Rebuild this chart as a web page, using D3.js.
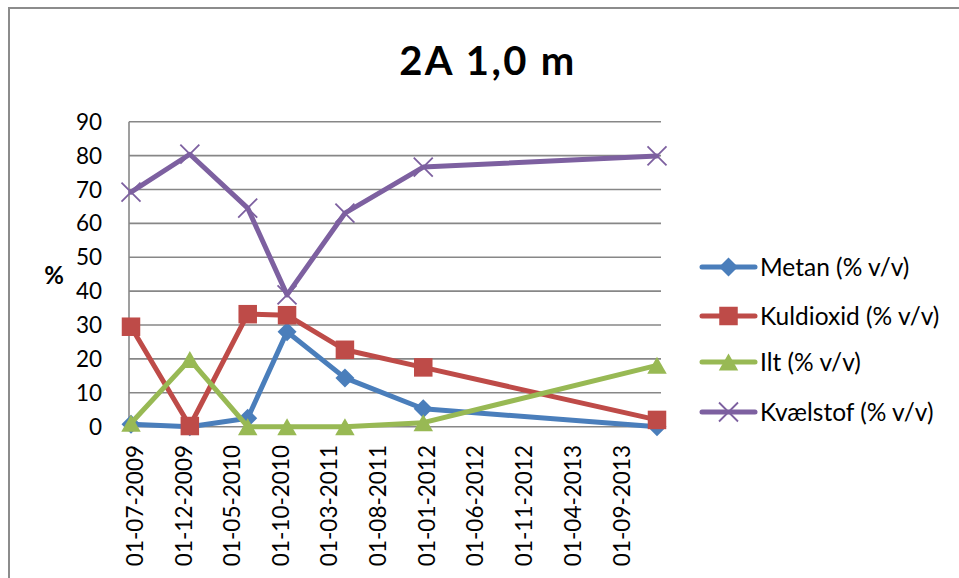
<!DOCTYPE html>
<html>
<head>
<meta charset="utf-8">
<script src="https://cdn.jsdelivr.net/npm/d3@7"></script>
<style>
  html, body { margin: 0; padding: 0; background: #fff; }
  svg { display: block; font-family: Lato, "Open Sans", sans-serif; }
</style>
</head>
<body>
<svg id="chart" width="959" height="578"></svg>
<script>
// Gas composition measured at 2A, 1.0 m depth
const dates = ["2009-07-01", "2010-01-01", "2010-07-01", "2010-11-01", "2011-05-01", "2012-01-01", "2014-01-01"];
const metan = [0.7, 0, 2.5, 28.0, 14.4, 5.3, 0];
const kuldioxid = [29.5, 0.2, 33.2, 32.9, 22.7, 17.5, 2.0];
const ilt = [1.0, 19.8, 0, 0, 0, 1.2, 18.1];
const kvaelstof = [69.2, 80.4, 64.5, 38.9, 63.0, 76.6, 79.9];
const seriesNames = ["Metan (% v/v)", "Kuldioxid (% v/v)", "Ilt (% v/v)", "Kvælstof (% v/v)"];
const yTicks = [0, 10, 20, 30, 40, 50, 60, 70, 80, 90];
const xTickDates = ["2009-07-01", "2009-12-01", "2010-05-01", "2010-10-01", "2011-03-01", "2011-08-01",
                    "2012-01-01", "2012-06-01", "2012-11-01", "2013-04-01", "2013-09-01"];
const titleText = "2A 1,0 m";
const yTitle = "%";

const parse = d3.utcParse("%Y-%m-%d");
const fmt = d3.utcFormat("%d-%m-%Y");
const dateVals = dates.map(parse);

const series = [
  { name: seriesNames[0], values: metan, color: "#4A7EBB", marker: "diamond" },
  { name: seriesNames[1], values: kuldioxid, color: "#BE4B48", marker: "square" },
  { name: seriesNames[2], values: ilt, color: "#98B954", marker: "triangle" },
  { name: seriesNames[3], values: kvaelstof, color: "#7D60A0", marker: "x" }
];

const svg = d3.select("#chart");

// outer frame
svg.append("rect")
  .attr("x", 9).attr("y", 8).attr("width", 980).attr("height", 600)
  .attr("fill", "none").attr("stroke", "#8c8c8c").attr("stroke-width", 2);

const plot = { left: 129, right: 661, top: 121.7, bottom: 426.7 };

const x = d3.scaleUtc()
  .domain([dateVals[0], dateVals[dateVals.length - 1]])
  .range([131, 657]);
const y = d3.scaleLinear().domain([0, 90]).range([plot.bottom, plot.top]);

// horizontal gridlines
svg.append("g").selectAll("line").data(yTicks).join("line")
  .attr("x1", plot.left).attr("x2", plot.right)
  .attr("y1", d => y(d)).attr("y2", d => y(d))
  .attr("stroke", "#878787").attr("stroke-width", 1.6);

// vertical axis line
svg.append("line")
  .attr("x1", plot.left).attr("x2", plot.left)
  .attr("y1", plot.top).attr("y2", plot.bottom)
  .attr("stroke", "#878787").attr("stroke-width", 1.6);

// y tick labels
svg.append("g").selectAll("text").data(yTicks).join("text")
  .attr("x", 102).attr("y", d => y(d)).attr("dy", "0.36em")
  .attr("text-anchor", "end").attr("font-size", 22.5).attr("fill", "#000")
  .text(d => d);

// x tick labels (rotated)
svg.append("g").selectAll("text").data(xTickDates.map(parse)).join("text")
  .attr("transform", d => `translate(${x(d) + 3.5},445) rotate(-90)`)
  .attr("dy", "0.36em")
  .attr("text-anchor", "end").attr("font-size", 22.5).attr("fill", "#000")
  .text(d => fmt(d));

// title
svg.append("text")
  .attr("x", 488).attr("y", 75)
  .attr("text-anchor", "middle").attr("font-size", 40).attr("font-weight", "bold")
  .attr("letter-spacing", 2.4)
  .text(titleText);

// y axis title
svg.append("text")
  .attr("x", 54).attr("y", 275).attr("dy", "0.36em")
  .attr("text-anchor", "middle").attr("font-size", 24).attr("font-weight", "bold")
  .text(yTitle);

function drawMarker(g, type, color, cx, cy) {
  if (type === "diamond") {
    const r = 9.5;
    g.append("path").attr("d", `M${cx},${cy - r}L${cx + r},${cy}L${cx},${cy + r}L${cx - r},${cy}Z`).attr("fill", color);
  } else if (type === "square") {
    const s = 18.5;
    g.append("rect").attr("x", cx - s / 2).attr("y", cy - s / 2).attr("width", s).attr("height", s).attr("fill", color);
  } else if (type === "triangle") {
    const w = 19.5, h = 17;
    g.append("path").attr("d", `M${cx},${cy - h / 2}L${cx + w / 2},${cy + h / 2}L${cx - w / 2},${cy + h / 2}Z`).attr("fill", color);
  } else if (type === "x") {
    const r = 9.5;
    g.append("path").attr("d", `M${cx - r},${cy - r}L${cx + r},${cy + r}M${cx - r},${cy + r}L${cx + r},${cy - r}`)
      .attr("stroke", color).attr("stroke-width", 1.8).attr("fill", "none");
  }
}

const line = d3.line().x(d => x(d.date)).y(d => y(d.v));

series.forEach(s => {
  const pts = s.values.map((v, i) => ({ date: dateVals[i], v }));
  const g = svg.append("g");
  g.append("path").datum(pts)
    .attr("d", line).attr("fill", "none")
    .attr("stroke", s.color).attr("stroke-width", 5).attr("stroke-linejoin", "round").attr("stroke-linecap", "round");
  pts.forEach(p => drawMarker(g, s.marker, s.color, x(p.date), y(p.v)));
});

// legend
const legendY = [267, 316, 362, 412];
series.forEach((s, i) => {
  const g = svg.append("g");
  g.append("line").attr("x1", 702).attr("x2", 755).attr("y1", legendY[i]).attr("y2", legendY[i])
    .attr("stroke", s.color).attr("stroke-width", 5).attr("stroke-linecap", "round");
  drawMarker(g, s.marker, s.color, 728.5, legendY[i]);
  g.append("text").attr("x", 760).attr("y", legendY[i]).attr("dy", "0.36em")
    .attr("font-size", 24.5).attr("fill", "#000").text(s.name);
});
</script>
</body>
</html>
